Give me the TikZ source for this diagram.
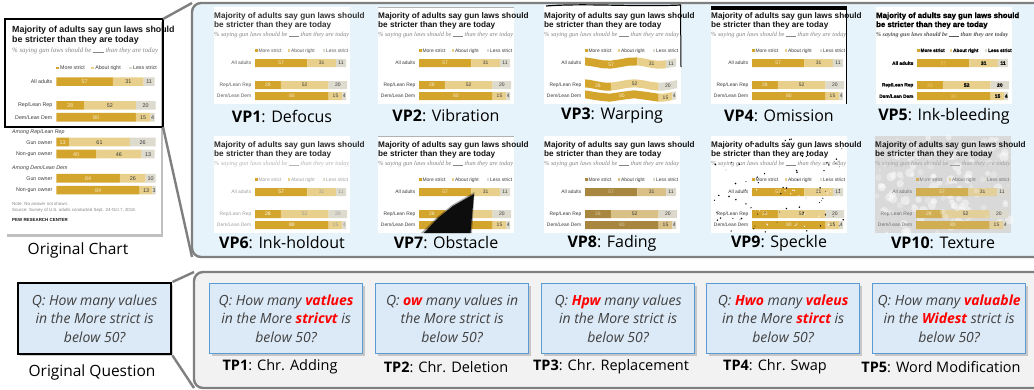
\documentclass[tikz,border=0pt]{standalone}
\usepackage{fontspec}
\setmainfont{Open Sans}
\newfontfamily\csans{Liberation Sans}
\newfontfamily\cserif{Liberation Serif}
\newfontfamily\cink{Liberation Sans}[FakeBold=1.6]
\usetikzlibrary{shadows}

\definecolor{cms}{HTML}{D4A52D}
\definecolor{car}{HTML}{E8D08C}
\definecolor{cls}{HTML}{DDDACE}
\definecolor{ctitle}{HTML}{141414}
\definecolor{csub}{HTML}{858585}
\definecolor{clbl}{HTML}{3A3A3A}
\definecolor{cnuma}{HTML}{F6EBCB}
\definecolor{cnumb}{HTML}{3A3A3A}
\definecolor{panelblue}{HTML}{E6F3FA}
\definecolor{panelgray}{HTML}{F2F2F2}
\definecolor{edgegray}{HTML}{7F7F7F}
\definecolor{qfill}{HTML}{DCE9F6}
\definecolor{qedge}{HTML}{5B9BD5}
\definecolor{qtext}{HTML}{404040}
\definecolor{redw}{HTML}{FF0000}

\def\ctitlefont{\csans\bfseries\fontsize{8.2}{9}\selectfont}
\def\csubfont{\cserif\itshape\fontsize{6.3}{7}\selectfont}
\def\clblfont{\csans\fontsize{4.9}{5}\selectfont}
\def\cnumfont{\csans\fontsize{5}{5}\selectfont}
\def\warpamp{0}
\def\warpfreq{6}
\def\cid{c}

\tikzset{
  ct/.style={anchor=base west, inner sep=0pt, font=\ctitlefont, text=ctitle},
  cs/.style={anchor=base west, inner sep=0pt, font=\csubfont, text=csub},
  cl/.style={inner sep=0pt, font=\clblfont, text=clbl},
  cn/.style={inner sep=0pt, font=\cnumfont},
  vplabel/.style={inner sep=0pt, font=\fontsize{16}{18}\selectfont, text=black},
  conn/.style={draw=edgegray, line width=2.4pt},
  qbox/.style={draw=qedge, line width=1.3pt, fill=qfill, anchor=north west,
     minimum width=153pt, minimum height=70pt, inner sep=0pt, align=center,
     text=qtext, font=\itshape\fontsize{14}{18.7}\selectfont,
     drop shadow={shadow xshift=2pt, shadow yshift=-2pt, opacity=0.3, fill=black!60}},
  tplabel/.style={inner sep=0pt, font=\fontsize{14.5}{16}\selectfont, text=black}
}
\newcommand\rd[1]{\textcolor{redw}{\bfseries #1}}

\newcommand\barseg[4]{%
  \fill[#4] plot[domain=#1:#2,samples=7] (\x,{#3+\warpamp*sin(\x*\warpfreq)})
    -- plot[domain=#2:#1,samples=7] (\x,{#3+8+\warpamp*sin(\x*\warpfreq)}) -- cycle;}

\newcommand\barrow[6]{%
  \pgfmathsetmacro\xa{41}%
  \pgfmathsetmacro\xb{41+0.92*#4}%
  \pgfmathsetmacro\xc{\xb+0.92*#5}%
  \pgfmathsetmacro\xd{\xc+0.92*#6}%
  \barseg{\xa}{\xb}{#2}{cms}%
  \barseg{\xb}{\xc}{#2}{car}%
  \barseg{\xc}{\xd}{#2}{cls}%
  \pgfmathsetmacro\ma{(\xa+\xb)/2}\pgfmathsetmacro\ya{#2+4.2+\warpamp*sin(\ma*\warpfreq)}%
  \pgfmathsetmacro\mb{(\xb+\xc)/2}\pgfmathsetmacro\yb{#2+4.2+\warpamp*sin(\mb*\warpfreq)}%
  \pgfmathsetmacro\mc{(\xc+\xd)/2}\pgfmathsetmacro\yc{#2+4.2+\warpamp*sin(\mc*\warpfreq)}%
  \node[cn, text=cnuma] (\cid-#1a) at (\ma,\ya) {#4};%
  \node[cn, text=cnumb] (\cid-#1b) at (\mb,\yb) {#5};%
  \node[cn, text=cnumb] (\cid-#1c) at (\mc,\yc) {#6};%
  \node[cl, anchor=east] (\cid-#1l) at (37.5,{#2+4.2}) {#3};%
}

\newcommand\chartbody{%
  \node[ct] (\cid-t1) at (0,11) {Majority of adults say gun laws should};
  \node[ct] (\cid-t2) at (0,20) {be stricter than they are today};
  \node[cs] (\cid-sub) at (0,29) {\% saying gun laws should be \rule[-0.4pt]{10pt}{0.35pt} than they are today};
  \fill[cms] (41,42.2) rectangle ++(2.6,2.6);
  \node[cl, anchor=base west] (\cid-l1) at (44.4,45) {More strict};
  \fill[car] (73.5,42.2) rectangle ++(2.6,2.6);
  \node[cl, anchor=base west] (\cid-l2) at (76.9,45) {About right};
  \fill[cls] (108.5,42.2) rectangle ++(2.6,2.6);
  \node[cl, anchor=base west] (\cid-l3) at (111.9,45) {Less strict};
  \barrow{a}{52}{All adults}{57}{31}{11}
  \barrow{r}{74}{Rep/Lean Rep}{28}{52}{20}
  \barrow{d}{85}{Dem/Lean Dem}{80}{15}{4}
}

\begin{document}
\begin{tikzpicture}[x=1pt,y=-1pt]
\useasboundingbox (0,0) rectangle (1034,389);
\clip (0,0) rectangle (1034,389);
\fill[white] (0,0) rectangle (1034,389);

% ---------- panels ----------
\node[draw=edgegray, line width=2.4pt, fill=panelblue, rounded corners=9pt,
      anchor=north west, minimum width=860pt, minimum height=254pt, inner sep=0pt,
      outer sep=0pt] (vpanel) at (192,3) {};
\node[draw=edgegray, line width=2.4pt, fill=panelgray, rounded corners=9pt,
      anchor=north west, minimum width=860pt, minimum height=116pt, inner sep=0pt,
      outer sep=0pt] (qpanel) at (194,272) {};

% ---------- original chart ----------
\node[fill=white, anchor=north west, minimum width=156pt, minimum height=215pt,
      inner sep=0pt, outer sep=0pt,
      drop shadow={shadow xshift=2pt, shadow yshift=-3pt, opacity=0.35, fill=black!70}]
      (ocard) at (5,19) {};
\begin{scope}[shift={(12,21.1)}, scale=1.08, transform shape]
  \def\cid{orig}
  \chartbody
  \node[cl, anchor=base west, font=\csans\itshape\fontsize{4.9}{5}\selectfont] (orig-am1) at (0,104.5) {Among Rep/Lean Rep};
  \barrow{g1}{108}{Gun owner}{13}{61}{26}
  \barrow{n1}{119}{Non-gun owner}{40}{46}{13}
  \node[cl, anchor=base west, font=\csans\itshape\fontsize{4.9}{5}\selectfont] (orig-am2) at (0,137.5) {Among Dem/Lean Dem};
  \barrow{g2}{141.5}{Gun owner}{64}{26}{10}
  \barrow{n2}{152.5}{Non-gun owner}{84}{13}{3}
  \node[cl, anchor=base west, text=csub, font=\csans\fontsize{4.1}{5}\selectfont] (orig-note) at (0,171) {Note: No answer not shown.};
  \node[cl, anchor=base west, text=csub, font=\csans\fontsize{4.1}{5}\selectfont] (orig-src) at (0,176.5) {Source: Survey of U.S. adults conducted Sept. 24-Oct.7, 2018.};
  \node[cl, anchor=base west, text=ctitle, font=\csans\bfseries\fontsize{4.1}{5}\selectfont] (orig-pew) at (0,186) {PEW RESEARCH CENTER};
\end{scope}
\node[draw=black, line width=2.6pt, anchor=north west, minimum width=158pt,
      minimum height=108pt, inner sep=0pt, outer sep=0pt] (obox) at (5,19) {};
\draw[conn] (obox.north east) -- (vpanel.north west);
\draw[conn] (obox.south east) -- (vpanel.south west);
\node[inner sep=0pt, font=\fontsize{15.5}{18}\selectfont] (olabel) at (78,250) {Original Chart};

% ---------- VP1 Defocus ----------
\begin{scope}[shift={(214,7)}]
  \def\cid{vp1}
  \definecolor{ctitle}{HTML}{333333}
  \definecolor{clbl}{HTML}{5A5A5A}
  \fill[white] (0,0) rectangle (136,97);
  \chartbody
\end{scope}
% ---------- VP2 Vibration ----------
\begin{scope}[shift={(378,7)}]
  \def\cid{vp2}
  \fill[white] (0,0) rectangle (136,97);
  \draw[gray!60, line width=0.6pt] (0,0.3) -- (136,0.3);
  \chartbody
\end{scope}
% ---------- VP3 Warping ----------
\begin{scope}[shift={(544,7)}]
  \def\cid{vp3}
  \def\warpamp{1.7}
  \def\warpfreq{7}
  \fill[white] (0,-2) rectangle (137,97);
  \chartbody
  \draw[black, line width=1.2pt] (2,-1) .. controls (40,-4) and (90,0) .. (137,-2);
  \draw[black, line width=1pt] (136.5,-2) -- (137,60);
\end{scope}
% ---------- VP4 Omission ----------
\begin{scope}[shift={(711,7)}]
  \def\cid{vp4}
  \fill[white] (0,0) rectangle (136,97);
  \chartbody
  \fill[black] (0,-1) rectangle (136,2.5);
  \fill[black] (134.8,-1) rectangle (136,97);
\end{scope}
% ---------- VP5 Ink-bleeding ----------
\begin{scope}[shift={(876,7)}]
  \def\cid{vp5}
  \def\ctitlefont{\cink\bfseries\fontsize{7.8}{9}\selectfont}
  \def\clblfont{\cink\bfseries\fontsize{4.7}{5}\selectfont}
  \def\cnumfont{\cink\bfseries\fontsize{5}{5}\selectfont}
  \def\csubfont{\cserif\itshape\bfseries\fontsize{6}{7}\selectfont}
  \definecolor{ctitle}{HTML}{000000}
  \definecolor{clbl}{HTML}{111111}
  \definecolor{cnumb}{HTML}{111111}
  \definecolor{cnuma}{HTML}{E0B548}
  \definecolor{csub}{HTML}{555555}
  \fill[white] (0,0) rectangle (136,97);
  \chartbody
\end{scope}
% ---------- VP6 Ink-holdout ----------
\begin{scope}[shift={(214,136)}]
  \def\cid{vp6}
  \definecolor{ctitle}{HTML}{2A2A2A}
  \definecolor{clbl}{HTML}{A0A0A0}
  \definecolor{cnumb}{HTML}{9A9A9A}
  \definecolor{cnuma}{HTML}{FFFFFF}
  \definecolor{csub}{HTML}{B5B5B5}
  \fill[white] (0,0) rectangle (136,97);
  \chartbody
\end{scope}
% ---------- VP7 Obstacle ----------
\begin{scope}[shift={(378,136)}]
  \def\cid{vp7}
  \fill[white] (0,0) rectangle (136,97);
  \draw[gray!60, line width=0.6pt] (0,0.3) -- (136,0.3);
  \chartbody
  \fill[black, opacity=0.35] (96.5,56) -- (94,97) -- (43,97) -- (58,82) -- (74,69) -- cycle;
  \fill[black!95] (96,58) -- (92.5,97) -- (46,97) -- (60,82) -- (75,70) -- cycle;
\end{scope}
% ---------- VP8 Fading ----------
\begin{scope}[shift={(544,136)}]
  \def\cid{vp8}
  \definecolor{cms}{HTML}{A8863F}
  \definecolor{car}{HTML}{D8C086}
  \definecolor{cls}{HTML}{DCD8CB}
  \definecolor{cnuma}{HTML}{D9C9A0}
  \fill[white] (0,0) rectangle (136,97);
  \chartbody
\end{scope}
% ---------- VP9 Speckle ----------
\begin{scope}[shift={(711,136)}]
  \def\cid{vp9}
  \fill[white] (0,0) rectangle (136,97);
  \chartbody
  \pgfmathsetseed{17}
  \foreach \i in {1,...,80}{
    \pgfmathsetmacro\px{rnd*134+1}
    \pgfmathsetmacro\py{rnd*95+1}
    \pgfmathsetmacro\pr{0.35+0.55*rnd}
    \fill[black] (\px,\py) circle[radius=\pr];
  }
  \foreach \i in {1,...,25}{
    \pgfmathsetmacro\px{rnd*90+41}
    \pgfmathsetmacro\py{rnd*40+52}
    \fill[white] (\px,\py) circle[radius=0.7];
  }
\end{scope}
% ---------- VP10 Texture ----------
\begin{scope}[shift={(875,136)}]
  \def\cid{vp10}
  \definecolor{csub}{HTML}{9E9E9E}
  \definecolor{clbl}{HTML}{6E6E6E}
  \definecolor{cms}{HTML}{D2AE52}
  \definecolor{car}{HTML}{E2CF9A}
  \fill[black!15] (0,0) rectangle (136,97);
  \pgfmathsetseed{5}
  \foreach \i in {1,...,90}{
    \pgfmathsetmacro\px{rnd*136}
    \pgfmathsetmacro\py{rnd*97}
    \pgfmathsetmacro\pr{1.5+3.5*rnd}
    \fill[white, opacity=0.45] (\px,\py) circle[radius=\pr];
  }
  \chartbody
  \foreach \i in {1,...,60}{
    \pgfmathsetmacro\px{rnd*136}
    \pgfmathsetmacro\py{rnd*97}
    \pgfmathsetmacro\pr{1+2.5*rnd}
    \fill[white, opacity=0.25] (\px,\py) circle[radius=\pr];
  }
\end{scope}

% ---------- VP labels ----------
\node[vplabel] (lvp1) at (282,116) {\textbf{VP1}: Defocus};
\node[vplabel] (lvp2) at (446,116) {\textbf{VP2}: Vibration};
\node[vplabel] (lvp3) at (612,116) {\textbf{VP3}: Warping};
\node[vplabel] (lvp4) at (779,116) {\textbf{VP4}: Omission};
\node[vplabel] (lvp5) at (944,116) {\textbf{VP5}: Ink-bleeding};
\node[vplabel] (lvp6) at (282,243) {\textbf{VP6}: Ink-holdout};
\node[vplabel] (lvp7) at (446,243) {\textbf{VP7}: Obstacle};
\node[vplabel] (lvp8) at (612,243) {\textbf{VP8}: Fading};
\node[vplabel] (lvp9) at (779,243) {\textbf{VP9}: Speckle};
\node[vplabel] (lvp10) at (943,243) {\textbf{VP10}: Texture};

% ---------- questions ----------
\node[qbox, draw=black, line width=2.4pt, minimum height=71pt] (oq) at (17,282)
  {Q: How many values\\in the More strict is\\below 50?};
\draw[conn] (oq.north east) -- (qpanel.north west);
\draw[conn] (oq.south east) -- (qpanel.south west);
\node[inner sep=0pt, font=\fontsize{15.5}{18}\selectfont] (qlabel) at (92,372) {Original Question};

\node[qbox] (tp1) at (209,283) {Q: How many \rd{vatlues}\\in the More \rd{stricvt} is\\below 50?};
\node[qbox] (tp2) at (375,283) {Q: \rd{ow} many values in\\the More strict is\\below 50?};
\node[qbox] (tp3) at (541,283) {Q: \rd{Hpw} many values\\in the More strict is\\below 50?};
\node[qbox] (tp4) at (706,283) {Q: \rd{Hwo} many \rd{valeus}\\in the More \rd{stirct} is\\below 50?};
\node[qbox] (tp5) at (872,283) {Q: How many \rd{valuable}\\in the \rd{Widest} strict is\\below 50?};

\node[tplabel] (ltp1) at (280,367) {\textbf{TP1}: Chr. Adding};
\node[tplabel] (ltp2) at (446,367) {\textbf{TP2}: Chr. Deletion};
\node[tplabel] (ltp3) at (611,367) {\textbf{TP3}: Chr. Replacement};
\node[tplabel] (ltp4) at (775,367) {\textbf{TP4}: Chr. Swap};
\node[tplabel] (ltp5) at (941,367) {\textbf{TP5}: Word Modification};
\end{tikzpicture}
\end{document}
